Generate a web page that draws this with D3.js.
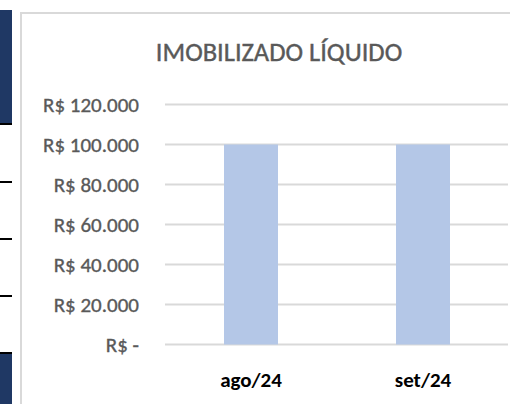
<!DOCTYPE html>
<html>
<head>
<meta charset="utf-8">
<script src="https://cdn.jsdelivr.net/npm/d3@7"></script>
<style>
  html, body { margin: 0; padding: 0; background: #fff; }
  svg { display: block; }
</style>
</head>
<body>
<div id="chart"></div>
<script>
const categories = ["ago/24", "set/24"];
const values = [100000, 100000];
const yTicks = [0, 20000, 40000, 60000, 80000, 100000, 120000];
const title = "IMOBILIZADO LÍQUIDO";

const width = 510, height = 404;
const font = "Carlito, Calibri, 'Liberation Sans Narrow', 'DejaVu Sans Condensed', sans-serif";

const svg = d3.select("#chart").append("svg")
    .attr("width", width).attr("height", height);

// left strip from the surrounding sheet
svg.append("rect").attr("x", 0).attr("y", 10).attr("width", 12).attr("height", 114)
    .style("fill", "#1f3864");
[123, 181, 238, 295].forEach(y => {
    svg.append("rect").attr("x", 0).attr("y", y).attr("width", 12).attr("height", 2)
        .style("fill", "#000");
});
svg.append("rect").attr("x", 0).attr("y", 352).attr("width", 12).attr("height", 52)
    .style("fill", "#1f3864");
svg.append("rect").attr("x", 0).attr("y", 352).attr("width", 12).attr("height", 2)
    .style("fill", "#000");

// chart frame
svg.append("rect").attr("x", 21).attr("y", 13).attr("width", 500).attr("height", 400)
    .style("fill", "#fff").style("stroke", "#d9d9d9").style("stroke-width", 2);

svg.append("text").attr("x", 279).attr("y", 61)
    .attr("text-anchor", "middle")
    .style("font-family", font)
    .style("font-size", "26.5px")
    .style("fill", "#595959")
    .style("stroke", "#595959")
    .style("stroke-width", 0.4)
    .text(title);

const x = d3.scaleBand()
    .domain(categories)
    .range([165, 509])
    .paddingInner(0.686)
    .paddingOuter(0.343);

const y = d3.scaleLinear()
    .domain([0, 120000])
    .range([344.5, 104.5]);

const fmt = v => v === 0 ? "R$ -" : "R$ " + d3.format(",")(v).replace(/,/g, ".");

// gridlines
svg.append("g")
    .selectAll("line")
    .data(yTicks)
    .enter().append("line")
    .attr("x1", 165).attr("x2", 508)
    .attr("y1", d => y(d)).attr("y2", d => y(d))
    .style("stroke", "#d9d9d9")
    .style("stroke-width", 2);

// y axis labels
const yAxis = svg.append("g")
    .attr("transform", "translate(139,0)")
    .call(d3.axisLeft(y).tickValues(yTicks).tickFormat(fmt).tickSize(0).tickPadding(0));
yAxis.select(".domain").remove();
yAxis.selectAll("text")
    .style("font-family", font)
    .style("font-size", "21px")
    .style("fill", "#595959")
    .style("stroke", "#595959")
    .style("stroke-width", 0.35);

// bars
svg.append("g")
    .selectAll("rect")
    .data(values)
    .enter().append("rect")
    .attr("x", (d, i) => x(categories[i]))
    .attr("y", d => y(d))
    .attr("width", x.bandwidth())
    .attr("height", d => y(0) - y(d))
    .style("fill", "#b4c7e7");

// x axis labels
const xAxis = svg.append("g")
    .attr("transform", "translate(0,366)")
    .call(d3.axisBottom(x).tickSize(0).tickPadding(0));
xAxis.select(".domain").remove();
xAxis.selectAll("text")
    .attr("dy", "1em")
    .style("font-family", font)
    .style("font-size", "21px")
    .style("font-weight", "bold")
    .style("fill", "#000");
</script>
</body>
</html>
